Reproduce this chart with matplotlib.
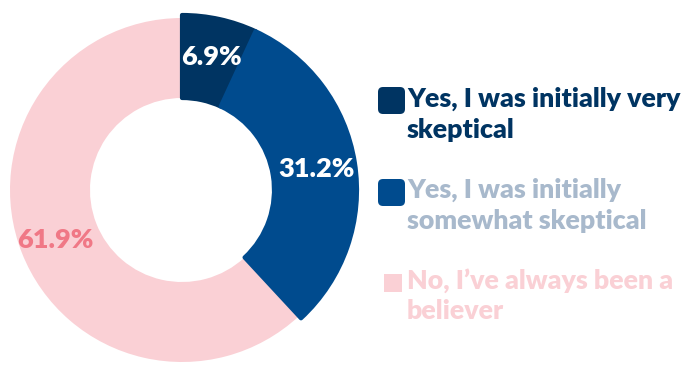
import matplotlib.pyplot as plt
from matplotlib.patches import FancyBboxPatch

labels = ["Yes, I was initially very\nskeptical",
          "Yes, I was initially\nsomewhat skeptical",
          "No, I\u2019ve always been a\nbeliever"]
shares = [6.9, 31.2, 61.9]
colors = ["#003462", "#004b8e", "#fad0d5"]
pct_colors = ["white", "white", "#f07886"]
legend_colors = ["#003462", "#a8b9cc", "#fad0d5"]

plt.rcParams['font.family'] = ['Lato', 'DejaVu Sans']

fig = plt.figure(figsize=(6.85, 3.65), dpi=100)
ax = fig.add_axes([0, 0, 1, 1])

wedges, texts, autotexts = ax.pie(
    shares, colors=colors, startangle=90, counterclock=False,
    center=(182, 175), radius=172, autopct='%.1f%%', pctdistance=0.79,
    wedgeprops=dict(width=80, linewidth=0), frame=True,
    textprops=dict(fontsize=19.5, fontweight='heavy'))
ax.set_xlim(0, 685)
ax.set_ylim(0, 365)
ax.set_aspect('equal')
ax.axis('off')

# the two "skeptical" slices sit slightly proud with soft corners
for w in wedges[:2]:
    w.set_radius(175)
    w.set_width(83)
    w.set_edgecolor(w.get_facecolor())
    w.set_linewidth(3)
    w.set_joinstyle('round')
    w.set_zorder(3)
wedges[2].set_zorder(2)

for t, c in zip(autotexts, pct_colors):
    t.set_color(c)
    t.set_zorder(5)

# legend: marker box (x, y, size) and text top
markers = [(378, 251, 27), (378, 159, 27), (384, 73, 18)]
text_tops = [278, 187, 97]
for i, (lab, fc, tc) in enumerate(zip(labels, colors, legend_colors)):
    mx, my, ms = markers[i]
    style = "square,pad=0" if i == 2 else "round,pad=0,rounding_size=5"
    ax.add_patch(FancyBboxPatch((mx, my), ms, ms, boxstyle=style,
                                fc=fc, ec='none', zorder=4))
    ax.text(407, text_tops[i], lab, color=tc, fontsize=19.3,
            fontweight='heavy', ha='left', va='top', linespacing=1.32)

fig.savefig("out.png", dpi=100)
